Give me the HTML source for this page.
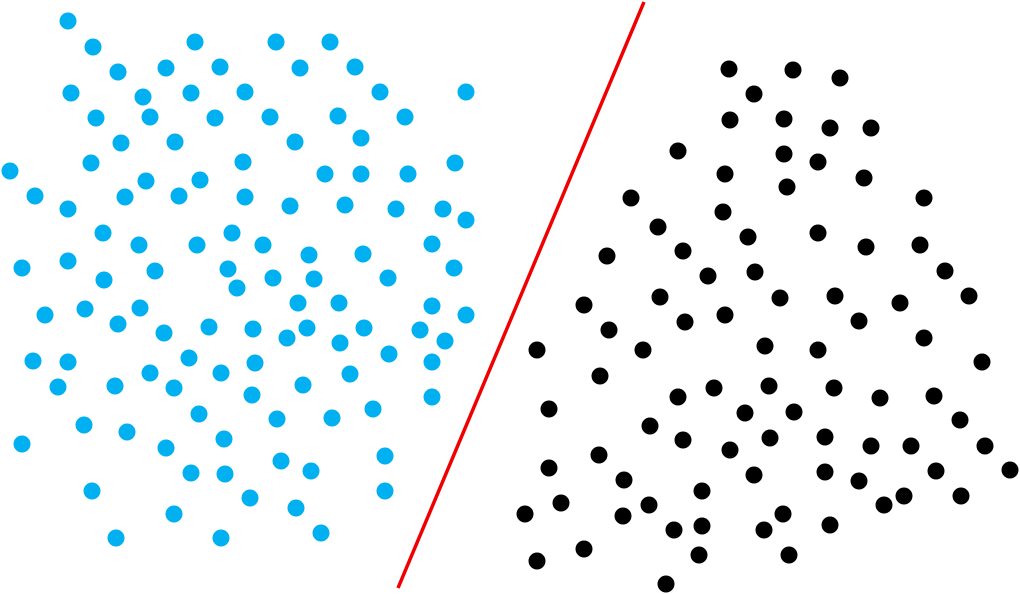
<!DOCTYPE html>
<html><head><meta charset="utf-8"><style>html,body{margin:0;padding:0;background:#fff;}svg{display:block}</style></head>
<body>
<svg width="1020" height="594" viewBox="0 0 1020 594" xmlns="http://www.w3.org/2000/svg">
<g fill="#00b0f0" id="b"></g>
<line x1="644" y1="2" x2="398" y2="588" stroke="#f00000" stroke-width="3.5"/>
<g fill="#000" id="k"></g>
</svg>
<script>
const B=[[68,21],[93,47],[195,42],[276,42],[330,42],[118,72],[166,68],[220,67],[300,68],[355,67],[71,93],[143,97],[191,93],[245,92],[380,92],[466,92],[96,118],[150,117],[215,118],[270,117],[338,116],[405,117],[121,143],[175,142],[295,142],[361,138],[91,163],[243,162],[455,163],[10,171],[146,181],[200,180],[325,174],[361,174],[408,174],[35,196],[125,197],[179,196],[245,197],[68,209],[290,206],[345,205],[396,209],[443,209],[466,220],[103,233],[139,245],[197,245],[232,233],[263,245],[309,255],[363,254],[432,244],[22,268],[68,261],[104,280],[155,271],[228,269],[273,278],[314,279],[388,278],[454,268],[237,288],[45,315],[85,309],[140,308],[298,303],[339,303],[432,306],[466,315],[118,324],[164,333],[209,327],[253,329],[287,338],[307,328],[364,328],[420,330],[445,341],[33,361],[68,362],[189,358],[255,363],[340,343],[389,354],[432,362],[58,387],[115,386],[150,373],[174,388],[221,373],[303,385],[350,374],[252,395],[432,397],[199,414],[277,419],[332,418],[373,409],[22,444],[84,425],[127,432],[166,448],[224,439],[385,456],[191,473],[225,474],[281,461],[311,471],[92,491],[250,498],[385,491],[174,514],[296,508],[116,538],[221,538],[321,533]];
const K=[[729,69],[793,70],[840,78],[754,94],[730,120],[784,119],[830,128],[871,128],[678,151],[784,154],[818,162],[725,174],[864,178],[787,187],[631,198],[924,198],[723,212],[658,227],[748,237],[818,233],[866,247],[920,245],[607,256],[683,251],[755,272],[708,276],[945,271],[969,296],[584,305],[660,297],[780,298],[835,296],[900,303],[609,330],[685,322],[725,315],[859,321],[924,338],[537,350],[643,350],[765,346],[818,350],[982,362],[600,376],[678,397],[714,388],[769,386],[834,388],[880,398],[934,396],[549,409],[745,413],[794,412],[650,426],[683,440],[770,438],[825,437],[871,446],[911,446],[960,420],[985,446],[599,455],[730,450],[549,468],[624,480],[754,475],[825,472],[859,481],[936,471],[1010,470],[702,491],[561,503],[649,505],[904,496],[961,496],[525,514],[623,516],[674,530],[702,526],[764,530],[783,514],[830,525],[884,505],[537,561],[584,549],[699,555],[789,555],[666,584]];
const ns="http://www.w3.org/2000/svg";
function add(id,a){const g=document.getElementById(id);a.forEach(p=>{const c=document.createElementNS(ns,"circle");c.setAttribute("cx",p[0]);c.setAttribute("cy",p[1]);c.setAttribute("r",8.5);g.appendChild(c);});}
add("b",B);add("k",K);
</script>
</body></html>
